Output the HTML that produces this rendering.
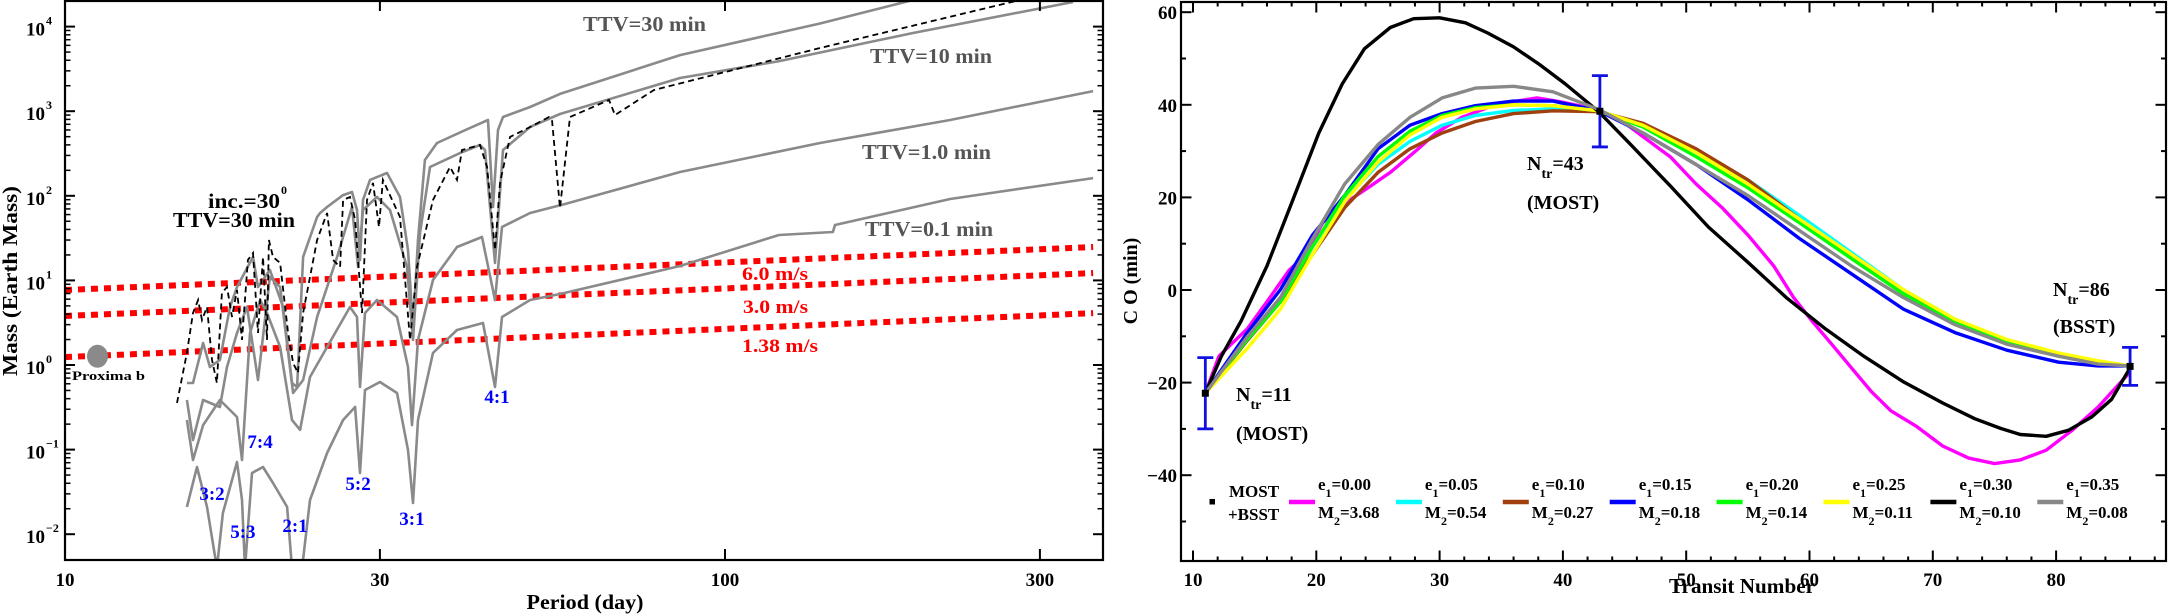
<!DOCTYPE html>
<html><head><meta charset="utf-8"><style>
html,body{margin:0;padding:0;background:#fff;}
svg{display:block;font-family:"Liberation Serif",serif;font-weight:bold;}
</style></head><body>
<svg id="fig" width="2168" height="614" viewBox="0 0 2168 614" xmlns="http://www.w3.org/2000/svg">
<defs>
<clipPath id="clipL"><rect x="65" y="1" width="1038" height="559"/></clipPath>
<clipPath id="clipR"><rect x="1181" y="2" width="985" height="559"/></clipPath>
</defs>
<g id="left"></g>
<g id="right"></g>
</svg>
<script>
// ---------- LEFT PANEL DATA ----------
const xTickVals=[10,30,100,300];
const xTickLabels=["10","30","100","300"];
const yDecades=[-2,-1,0,1,2,3,4];
const periodsA=[15.30,15.63,16.19,16.58,17.17,17.78,18.22,19.27,19.61,20.44,21.40,22.08,22.47,22.95,24.10,24.35,24.95,26.39,27.22,27.70,27.99,28.28,28.98,30.75,32.18,33.09,33.67,34.26,35.10,36.61,41.07,43.75,44.52,45.30,46.10,50.66,56.23,85.47,139.3,192.7];
const massesA=[0.613,0.613,1.82,0.947,1.15,4.85,8.36,18.9,8.36,13.3,4.85,0.613,0.55,18.9,56.1,62.6,73.7,102,111,68,17.4,89.1,154,186,96.8,22.9,2.81,30,265,421,633,787,73.7,600,853,1122,1600,4610,10890,20600];
const periodsB=[15.30,15.63,16.19,17.17,17.60,18.22,18.87,19.61,20.44,21.18,22.16,22.95,24.10,25.84,27.22,27.80,28.28,29.70,31.08,32.97,33.67,34.50,35.73,39.67,42.54,43.29,44.83,46.10,50.66,56.23,85.47,121.1,192.7,336.7];
const massesB=[0.386,0.130,0.386,0.319,0.947,2.39,4.85,0.665,11.0,8.36,0.467,0.665,3.69,18.9,73.7,14.4,68,96.8,68,14.4,1.98,36.3,219,320,398,348,16.1,348,650,927,2470,3920,8400,19540];
const periodsC=[15.30,15.63,16.19,17.17,18.22,18.54,19.07,19.75,20.23,21.18,22.08,22.71,23.51,24.95,27.03,27.70,27.99,28.48,29.70,31.84,33.09,33.55,34.26,36.10,39.26,42.84,44.83,45.94,50.66,57.22,85.47,139.3,219.3,361.2];
const massesC=[0.224,0.0754,0.195,0.386,0.243,0.0754,2.39,5.87,4.12,1.63,0.224,0.171,0.722,1.63,4.85,3.69,0.55,4.12,5.87,3.69,0.947,0.195,1.98,10.1,24.8,32.6,5.87,42.8,62.6,80,191,421,787,1730];
const periodsD=[15.30,15.85,16.41,16.99,17.35,18.22,18.54,18.74,19.20,19.95,20.66,21.70,22.08,22.87,23.51,24.95,26.39,27.51,27.99,28.48,30.01,31.84,33.09,33.67,34.26,36.10,39.26,42.99,44.83,45.94,50.66,56.23,85.47,120.7,145.7,146.8,219.3,361.2];
const massesD=[0.021,0.0623,0.021,0.004,0.0178,0.0713,0.0254,0.004,0.0529,0.0623,0.0403,0.021,0.004,0.004,0.0254,0.0912,0.224,0.319,0.0529,0.506,0.63,0.467,0.0989,0.0234,0.224,1.39,2.59,3.14,0.55,3.69,5.87,6.9,14.8,34.4,37.3,45.2,91.6,162];
const periodsInc=[14.78,15.30,15.63,15.91,16.13,16.41,16.70,16.99,17.29,17.60,17.91,18.22,18.54,18.93,19.27,19.61,19.95,20.23,20.37,20.66,21.18,21.78,22.16,22.54,22.95,24.10,24.95,25.48,26.11,26.39,27.03,27.51,28.18,28.68,29.29,29.91,30.32,32.18,33.32,34.14,36.10,38.31,39.26,39.95,42.54,43.60,44.83,45.62,47.23,50.66,54.12,54.70,56.23,58.24,66.71,68.13,78.07,139.3,279.9];
const massesInc=[0.356,1.39,4.12,5.87,3.40,4.85,1.15,0.613,7.10,8.36,3.69,7.70,1.98,17.4,21.1,2.39,18.9,1.98,30.0,18.9,16.1,2.39,1.06,0.804,4.12,30.0,62.6,17.4,14.4,89.1,96.8,51.8,4.12,89.1,142,42.8,154,56.1,1.98,14.4,89.1,219,154,348,398,219,22.9,142,495,650,853,766,71.8,853,1355,902,1780,5590,20600];
const rvLabels=["6.0 m/s","3.0 m/s","1.38 m/s"];
const rvMassAt10=[7.7,3.8,1.24];
const rvMassAt361=[24.8,12.2,4.1];
const proximaP=[11.2];
const proximaM=[1.27];
const resLabels=["7:4","3:2","5:3","2:1","5:2","3:1","4:1"];
const resP=[19.75,16.70,18.6,22.31,27.8,33.55,45.14];
const resM=[0.104,0.0254,0.0090,0.0106,0.0333,0.0128,0.356];

// ---------- RIGHT PANEL DATA ----------
const rxTicks=[10,20,30,40,50,60,70,80];
const ryTicks=[-40,-20,0,20,40,60];
const nSmooth=[11,14.4,17.1,19.7,22.3,25,27.6,30.2,32.9,36,39.2,42.9,46.5,50.8,55,59.2,63.4,67.6,71.8,76,80.2,83.4,86];
const ocCyan=[-22.3,-10.5,-1.6,9.4,19.5,27.1,32.1,35.6,37.7,38.8,39.1,38.7,35.6,30.1,23.8,16.1,8.1,0.1,-6.3,-10.9,-13.9,-15.6,-16.4];
const ocBrown=[-22.3,-10.9,-2.5,7.7,17.8,25.4,30.5,33.9,36.4,38.1,38.7,38.5,36,30.5,23.8,15.3,6.8,-0.8,-6.7,-10.9,-13.9,-15.6,-16.4];
const ocBlue=[-22.3,-9.2,0.1,11.9,20.4,30.5,35.6,38.1,39.8,40.8,40.8,38.7,33.9,27.1,19.5,11.1,3.5,-4.1,-9.2,-13,-15.6,-16.4,-16.4];
const ocGreen=[-22.3,-10.7,-2.5,9.4,20.4,28.8,34.3,37.7,39.4,40,39.8,38.7,35.2,28.8,22.1,14.5,6.8,-0.8,-7.1,-11.3,-14.3,-15.8,-16.4];
const ocYellow=[-22.3,-12.6,-4.1,7.7,19.1,27.6,33.5,37.3,39.1,40,39.8,38.7,35.6,29.7,22.9,15.3,7.7,0.1,-6.3,-10.7,-13.6,-15.3,-16.4];
const ocGray=[-22.3,-10.1,-1.6,11.1,22.9,31.4,37.3,41.5,43.6,44.0,42.8,39,33.9,27.1,20.4,12.8,5.2,-1.6,-7.5,-11.7,-14.3,-16,-16.4];
const nBlack=[11,12.3,13.9,16,18.1,20.2,22.1,23.9,26,27.9,30,32.1,33.9,36,38.1,40.2,42.9,45.5,48.7,51.8,55,58.1,61.3,64.4,67.6,70.8,73.4,75.5,77.1,79.2,81,82.9,84.5,86];
const ocBlack=[-22.3,-14.3,-6.7,5.2,19.5,33.9,44.5,52.1,56.7,58.6,58.8,57.7,55.5,52.5,48.7,44.5,38.5,31.4,22.5,13.6,6.0,-1.6,-8.4,-14.3,-19.8,-24.4,-27.8,-29.9,-31.2,-31.6,-30.3,-27.4,-23.6,-16.8];
const nMagenta=[11,12.1,13.1,14.4,16,17.8,19.2,20.5,22.3,24.2,26,28.1,29.7,31.8,33.9,36,37.9,39.7,41.3,42.9,44.4,46.5,48.7,50.8,52.9,55,57.1,58.7,60.2,61.8,63.4,65,66.6,68.7,70.8,72.9,75,77.1,79.2,81.3,83.4,86];
const ocMagenta=[-22.3,-14.3,-11.7,-8.4,-2.5,4.3,7.7,14.5,18.7,22.1,25.4,30.1,33.9,37.3,39.4,40.7,41.5,40.7,39.8,38.7,37.3,33.1,28.8,22.9,17.8,11.9,5.2,-1.6,-6.7,-11.7,-16.8,-21.9,-26.1,-29.5,-33.7,-36.3,-37.5,-36.7,-34.6,-30.3,-25.3,-17.7];
const obsN=[11,43,86];
const obsOC=[-22.3,38.6,-16.5];
const obsErr=[7.7,7.7,4.1];
const obsLabels=["11","43","86"];
const obsSource=["(MOST)","(MOST)","(BSST)"];
const legE=["0.00","0.05","0.10","0.15","0.20","0.25","0.30","0.35"];
const legM=["3.68","0.54","0.27","0.18","0.14","0.11","0.10","0.08"];

const NS="http://www.w3.org/2000/svg";
function mk(parent,tag,attrs,text){const e=document.createElementNS(NS,tag);for(const k in attrs)e.setAttribute(k,attrs[k]);if(text!==undefined)e.textContent=text;parent.appendChild(e);return e;}
const L=document.getElementById('left');
const R=document.getElementById('right');

const lx=p=>65+660*Math.log10(p/10);
const ly=m=>365-84.6*Math.log10(m);
function pathD(xs,ys,fx,fy){return xs.map((x,i)=>(i?'L':'M')+fx(x).toFixed(1)+','+fy(ys[i]).toFixed(1)).join(' ');}

const lc=mk(L,'g',{'clip-path':'url(#clipL)'});


rvLabels.forEach((lab,i)=>{
 const ln=mk(lc,'line',{x1:lx(10),y1:ly(rvMassAt10[i]),x2:lx(361.2),y2:ly(rvMassAt361[i]),stroke:'#ff0000','stroke-width':6,'stroke-dasharray':'7 6'});
 
 
});
const grays=[[periodsA,massesA,'ttv-30min-curve'],[periodsB,massesB,'ttv-10min-curve'],[periodsC,massesC,'ttv-1min-curve'],[periodsD,massesD,'ttv-0.1min-curve']];
grays.forEach(g=>{
 const p=mk(lc,'path',{d:pathD(g[0],g[1],lx,ly),fill:'none',stroke:'#8a8a8a','stroke-width':2.6,'stroke-linejoin':'round'});
 
 
});
const dp=mk(lc,'path',{d:pathD(periodsInc,massesInc,lx,ly),fill:'none',stroke:'#000','stroke-width':1.8,'stroke-dasharray':'6 4'});


const pc=mk(lc,'ellipse',{cx:lx(proximaP[0]),cy:ly(proximaM[0]),rx:10.5,ry:11.5,fill:'#8a8a8a'});



const lf=mk(L,'rect',{x:65,y:1,width:1038,height:559,fill:'none',stroke:'#000','stroke-width':2.2});


yDecades.forEach(d=>{
 for(let k=1;k<10;k++){
  const v=Math.log10(k)+d; const y=365-84.6*v;
  if(y<2||y>559)continue;
  const len=k===1?10:5.5;
  const t1=mk(L,'line',{x1:65,y1:y,x2:65+len,y2:y,stroke:'#000','stroke-width':k===1?2:1.5});
  
  
  const t2=mk(L,'line',{x1:1103,y1:y,x2:1103-len,y2:y,stroke:'#000','stroke-width':k===1?2:1.5});
  
  
 }
 const y=365-84.6*d;
 const tl=mk(L,'text',{x:45,y:y+9,'font-size':19,'text-anchor':'end'},'10');
 
 
 const ex=mk(L,'text',{x:46,y:y-2,'font-size':12},d<0?'\u2212'+(-d):String(d));
 
 
});
xTickVals.forEach((v,i)=>{
 const x=lx(v);
 if(i>0){
  const b=mk(L,'line',{x1:x,y1:560,x2:x,y2:549,stroke:'#000','stroke-width':2});
  
  
  const t=mk(L,'line',{x1:x,y1:1,x2:x,y2:11,stroke:'#000','stroke-width':2});
  
  
 }
 const lab=mk(L,'text',{x:x,y:586,'font-size':19,'text-anchor':'middle'},xTickLabels[i]);
 
 
});
resLabels.forEach((r,i)=>{
 const t=mk(L,'text',{x:lx(resP[i]),y:ly(resM[i]),'font-size':19,fill:'#0000ff','text-anchor':'middle'},r);
 
 
});
</script>
<script>
(function(){
const L=document.getElementById('left');
const NS="http://www.w3.org/2000/svg";
function tx(x,y,s,fill,str,name,len,anchor){const e=document.createElementNS(NS,'text');e.setAttribute('x',x);e.setAttribute('y',y);e.setAttribute('font-size',s);e.setAttribute('fill',fill);if(len){e.setAttribute('textLength',len);e.setAttribute('lengthAdjust','spacingAndGlyphs');}if(anchor)e.setAttribute('text-anchor',anchor);e.textContent=str;


L.appendChild(e);return e;}
tx(583,31,21,'#555','TTV=30 min','label-ttv-30',123);
tx(870,63,21,'#555','TTV=10 min','label-ttv-10',122);
tx(862,159,21,'#555','TTV=1.0 min','label-ttv-1',129);
tx(865,236,21,'#555','TTV=0.1 min','label-ttv-0.1',128);
tx(742,280,19,'#ff0000','6.0 m/s','label-rv-6',66);
tx(743,313,19,'#ff0000','3.0 m/s','label-rv-3',65);
tx(742,352,19,'#ff0000','1.38 m/s','label-rv-1.38',76);
tx(208,208,21,'#000','inc.=30','label-inc',72);
tx(281,194,12,'#000','0','label-inc-degree');
tx(173,227,21,'#000','TTV=30 min','label-inc-ttv',122);
tx(72,380,13,'#000','Proxima b','label-proxima-b',73);
tx(585,609,21,'#000','Period (day)','x-axis-title',117,'middle');
const yt=tx(0,0,21,'#000','Mass (Earth Mass)','y-axis-title',190,'middle');
yt.setAttribute('transform','translate(17,281) rotate(-90)');
})();
</script>
<script>
(function(){
const R=document.getElementById('right');
const NS="http://www.w3.org/2000/svg";
function mk(parent,tag,attrs,text){const e=document.createElementNS(NS,tag);for(const k in attrs)e.setAttribute(k,attrs[k]);if(text!==undefined)e.textContent=text;parent.appendChild(e);return e;}
const rx=n=>1193+12.33*(n-10);
const ry=v=>290-4.63*v;
function pathD(xs,ys){return xs.map((x,i)=>(i?'L':'M')+rx(x).toFixed(1)+','+ry(ys[i]).toFixed(1)).join(' ');}
const rc=mk(R,'g',{'clip-path':'url(#clipR)'});


const series=[[nMagenta,ocMagenta,'#ff00ff','curve-e0.00'],[nSmooth,ocCyan,'#00ffff','curve-e0.05'],[nSmooth,ocBrown,'#a0400f','curve-e0.10'],[nSmooth,ocBlue,'#0000ff','curve-e0.15'],[nSmooth,ocGreen,'#00ff00','curve-e0.20'],[nSmooth,ocYellow,'#ffff00','curve-e0.25'],[nBlack,ocBlack,'#000000','curve-e0.30'],[nSmooth,ocGray,'#888888','curve-e0.35']];
series.forEach(s=>{
 const p=mk(rc,'path',{d:pathD(s[0],s[1]),fill:'none',stroke:s[2],'stroke-width':3.4,'stroke-linejoin':'round'});
 
 
});
obsN.forEach((n,i)=>{
 const x=rx(n),y0=ry(obsOC[i]-obsErr[i]),y1=ry(obsOC[i]+obsErr[i]);
 const g=mk(R,'g',{stroke:'#1010e0','stroke-width':2.8});
 
 
 mk(g,'line',{x1:x,y1:y0,x2:x,y2:y1});
 mk(g,'line',{x1:x-8,y1:y0,x2:x+8,y2:y0});
 mk(g,'line',{x1:x-8,y1:y1,x2:x+8,y2:y1});
 const sq=mk(R,'rect',{x:x-3.5,y:ry(obsOC[i])-3.5,width:7,height:7,fill:'#000'});
 
 
});
const annPos=[[1236,401,440],[1527,170,209],[2053,296,333]];
obsLabels.forEach((lab,i)=>{
 const a=annPos[i];
 const t=mk(R,'text',{x:a[0],y:a[1],'font-size':20});
 
 
 mk(t,'tspan',{},'N');
 mk(t,'tspan',{dy:8,'font-size':14},'tr');
 mk(t,'tspan',{dy:-8},'='+lab);
 const s=mk(R,'text',{x:a[0],y:a[2],'font-size':20},obsSource[i]);
 
 
});
const f=mk(R,'rect',{x:1181,y:2,width:985,height:559,fill:'none',stroke:'#000','stroke-width':2.2});


for(let n=10;n<=88;n+=2){
 const x=rx(n),maj=(n%10===0),len=maj?10.5:4.5;
 const b=mk(R,'line',{x1:x,y1:561,x2:x,y2:561-len,stroke:'#000','stroke-width':2});
 
 
 const t=mk(R,'line',{x1:x,y1:2,x2:x,y2:2+len,stroke:'#000','stroke-width':2});
 
 
}
for(let v=-50;v<=60;v+=10){
 const y=ry(v),maj=(v%20===0),len=maj?10.5:5;
 const a=mk(R,'line',{x1:1181,y1:y,x2:1181+len,y2:y,stroke:'#000','stroke-width':2});
 
 
 const b=mk(R,'line',{x1:2166,y1:y,x2:2166-len,y2:y,stroke:'#000','stroke-width':2});
 
 
}
rxTicks.forEach(n=>{
 const t=mk(R,'text',{x:rx(n),y:586,'font-size':19,'text-anchor':'middle'},String(n));
 
 
});
ryTicks.forEach(v=>{
 const t=mk(R,'text',{x:1177,y:ry(v)+7,'font-size':19,'text-anchor':'end'},(v<0?'\u2212':'')+Math.abs(v));
 
 
});
const xt=mk(R,'text',{x:1742,y:593,'font-size':21,'text-anchor':'middle',textLength:146,lengthAdjust:'spacingAndGlyphs'},'Transit Number');


const yt=mk(R,'text',{x:0,y:0,'font-size':20,'text-anchor':'middle',transform:'translate(1137,281) rotate(-90)'},'C  O (min)');


const lg=mk(R,'g',{});


const ms=mk(lg,'rect',{x:1209.5,y:499,width:5.5,height:5.5,fill:'#000'});


const t1=mk(lg,'text',{x:1229,y:497,'font-size':17},'MOST');


const t2=mk(lg,'text',{x:1228,y:520,'font-size':17},'+BSST');


legE.forEach((e,i)=>{
 const xs=1289+106.9*i;
 const ln=mk(lg,'line',{x1:xs,y1:502,x2:xs+26,y2:502,stroke:series[i][2],'stroke-width':4.5});
 
 
 const te=mk(lg,'text',{x:xs+29,y:490,'font-size':17});
 
 
 mk(te,'tspan',{},'e');
 mk(te,'tspan',{dy:7,'font-size':12},'1');
 mk(te,'tspan',{dy:-7},'='+e);
 const tm=mk(lg,'text',{x:xs+29,y:518,'font-size':17});
 
 
 mk(tm,'tspan',{},'M');
 mk(tm,'tspan',{dy:7,'font-size':12},'2');
 mk(tm,'tspan',{dy:-7},'='+legM[i]);
});
})();
</script>
</body></html>
